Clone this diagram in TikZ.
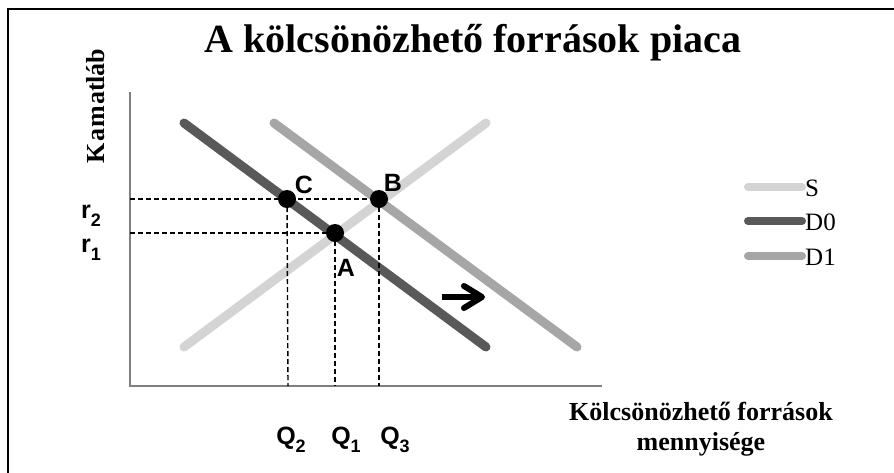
\documentclass[tikz,border=0pt]{standalone}
\usepackage{fontspec}
\setmainfont{Liberation Serif}
\newfontfamily\arialfont{Liberation Sans}
\definecolor{sgray}{HTML}{D4D4D4}
\definecolor{dzgray}{HTML}{595959}
\definecolor{dagray}{HTML}{A6A6A6}
\definecolor{axgray}{HTML}{808080}
\newcommand\sublbl[2]{#1\raisebox{-0.32em}{\fontsize{18}{18}\selectfont #2}}
\tikzset{
  curve/.style={line width=9pt, line cap=round},
  legline/.style={line width=8pt, line cap=round},
  axis/.style={axgray, line width=2.2pt},
  guide/.style={black, line width=1.4pt, dash pattern=on 5pt off 3pt},
  dot/.style={circle, fill=black, inner sep=0pt, minimum size=18pt},
  ptlbl/.style={font=\arialfont\bfseries\fontsize{25}{25}\selectfont, inner sep=0pt},
  serifbold/.style={font=\bfseries, inner sep=0pt},
  legtxt/.style={font=\fontsize{25}{25}\selectfont, inner sep=0pt, anchor=west},
  shiftarrow/.style={black, line width=6pt, line join=round},
}
\begin{document}
\begin{tikzpicture}[x=1pt, y=-1pt]
\useasboundingbox (0,0) rectangle (894,472);
\clip (0,0) rectangle (894,472);
\fill[white] (0,0) rectangle (894,472);
\draw[line width=2pt] (8,9) rectangle (920,500);

% title
\node[serifbold, font=\bfseries\fontsize{40}{40}\selectfont] (title) at (473,43) {A kölcsönözhető források piaca};

% axes
\coordinate (top) at (130,92);
\coordinate (orig) at (130,386);
\coordinate (xend) at (602,386);
\draw[axis] (top) -- (orig) -- (xend);

\node[serifbold, font=\bfseries\fontsize{26}{26}\selectfont, rotate=90] (ylab) at (96,106) {K\kern1.5pt a\kern1.5pt m\kern0.5pt atláb};

% curves
\coordinate (s1) at (184,347);
\coordinate (s2) at (486,123);
\coordinate (d01) at (184,123);
\coordinate (d02) at (486,347);
\coordinate (d11) at (274,123);
\coordinate (d12) at (577,347);
\draw[curve, sgray] (s1) -- (s2);
\draw[curve, dagray] (d11) -- (d12);
\draw[curve, dzgray] (d01) -- (d02);

% points
\node[dot] (C) at (287,199) {};
\node[dot] (A) at (335,233) {};
\node[dot] (B) at (379,199) {};

% guides
\coordinate (r2a) at (130,199);
\coordinate (r1a) at (130,233);
\coordinate (qc) at (288,386);
\coordinate (qa) at (335,386);
\coordinate (qb) at (379,386);
\draw[guide] (r2a) -- (B.center);
\draw[guide] (r1a) -- (A.center);
\draw[guide] (C.center) -- (qc);
\draw[guide] (A.center) -- (qa);
\draw[guide] (B.center) -- (qb);

% point labels
\node[ptlbl] (Cl) at (304,185) {C};
\node[ptlbl] (Bl) at (393,183) {B};
\node[ptlbl] (Al) at (346,268) {A};
\node[ptlbl, anchor=base] (r2) at (91,218) {\sublbl{r}{2}};
\node[ptlbl, anchor=base] (r1) at (91,252) {\sublbl{r}{1}};
\node[ptlbl, anchor=base] (Q2) at (291,444) {\sublbl{Q}{2}};
\node[ptlbl, anchor=base] (Q1) at (346,444) {\sublbl{Q}{1}};
\node[ptlbl, anchor=base] (Q3) at (395,444) {\sublbl{Q}{3}};

% shift arrow
\coordinate (ar1) at (442,297);
\coordinate (ar2) at (482,297);
\coordinate (arh1) at (464,286);
\coordinate (arh2) at (464,308);
\draw[shiftarrow] (ar1) -- (ar2);
\draw[shiftarrow, line cap=round] (arh1) -- (ar2) -- (arh2);

% x label
\node[serifbold, font=\bfseries\fontsize{26}{30}\selectfont, align=center] (xlab) at (701,429) {Kölcsönözhető források\\mennyisége};

% legend
\coordinate (l1a) at (748,187); \coordinate (l1b) at (802,187);
\coordinate (l2a) at (748,221); \coordinate (l2b) at (802,221);
\coordinate (l3a) at (748,256); \coordinate (l3b) at (802,256);
\draw[legline, sgray] (l1a) -- (l1b);
\draw[legline, dzgray] (l2a) -- (l2b);
\draw[legline, dagray] (l3a) -- (l3b);
\node[legtxt] (lS) at (805,188) {S};
\node[legtxt] (lD0) at (805,222) {D0};
\node[legtxt] (lD1) at (805,257) {D1};
\end{tikzpicture}
\end{document}
